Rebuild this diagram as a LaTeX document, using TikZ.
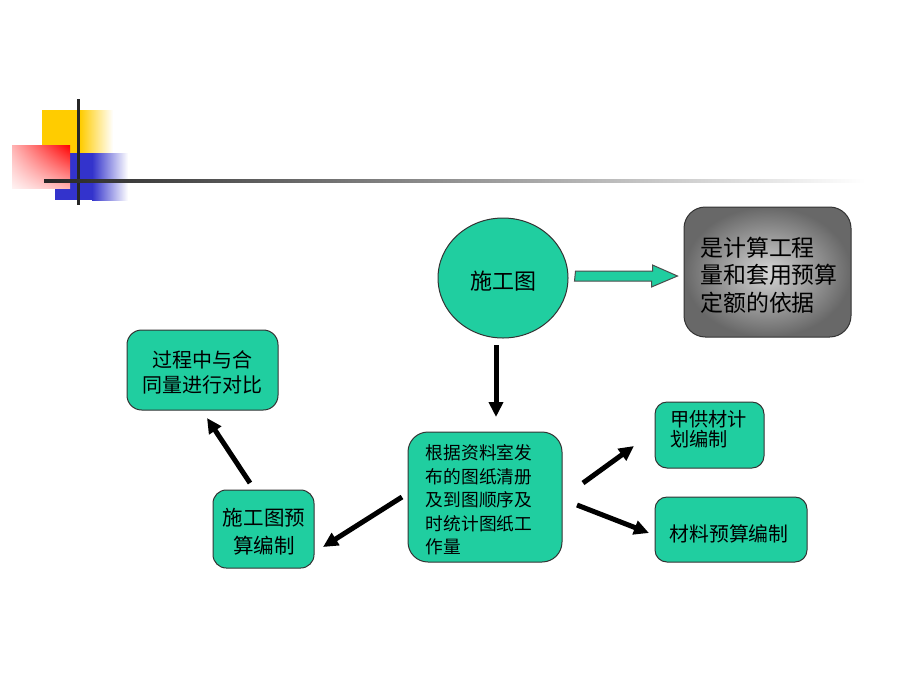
\documentclass[tikz,border=0pt]{standalone}
\usepackage{fontspec}
\setmainfont{Noto Sans CJK SC}
\usetikzlibrary{arrows.meta,calc,shapes.geometric,shadings}
\definecolor{teal1}{RGB}{32,206,160}
\definecolor{yellow1}{RGB}{255,204,0}
\definecolor{blue1}{RGB}{51,51,204}
\definecolor{red1}{RGB}{255,0,0}
\definecolor{glight}{RGB}{214,214,214}
\definecolor{gdark}{RGB}{104,104,104}
\begin{document}
\begin{tikzpicture}[x=0.75pt,y=-0.75pt,
  box/.style={draw=black!80, line width=0.75pt, fill=teal1, inner sep=0pt},
  txt/.style={inner sep=0pt, text=black},
  thinarrow/.style={line width=3.75pt, -{Triangle[length=11.25pt,width=10.5pt]}},
  blockarr/.style={draw=black!70, line width=0.75pt, fill=teal1}]
\useasboundingbox (0,0) rectangle (920,690);
\fill[white] (0,0) rectangle (920,690);
% decoration
\fill[yellow1] (42,110) rectangle (80,153);
\shade[left color=yellow1, right color=white] (80,110) rectangle (113,153);
\fill[blue1] (55,153) rectangle (92,200);
\shade[left color=blue1, right color=white] (92,153) rectangle (128,200);
\shade[upper right=red1, upper left=red1!30, lower right=red1!30, lower left=red1!5] (12,145) rectangle (70,188);
\draw[line width=2.25pt, black!85] (78,99) -- (78,205);
\shade[left color=black!85, right color=white] (44,179.5) rectangle (865,182.5);
% nodes
\node[ellipse, box, minimum width=97.5pt, minimum height=90pt] (circ) at (503,278) {};
\node[txt, font=\fontsize{16.5}{20}\selectfont] (tcirc) at (503,281) {施工图};
\node[draw=black!80, line width=0.75pt, rounded corners=16pt, inner color=glight, outer color=gdark, minimum width=125.25pt, minimum height=97.5pt, inner sep=0pt] (gbox) at (767.5,272) {};
\node[txt, align=left, font=\fontsize{17.2}{20.6}\selectfont] (tg) at (769,275) {是计算工程\\量和套用预算\\定额的依据};
\node[box, rounded corners=15pt, minimum width=115.5pt, minimum height=97.5pt] (cbox) at (485,497) {};
\node[txt, align=left, font=\fontsize{13.3}{17.6}\selectfont] (tc) at (479,500) {根据资料室发\\布的图纸清册\\及到图顺序及\\时统计图纸工\\作量};
\node[box, rounded corners=9pt, minimum width=81.75pt, minimum height=49.5pt] (jbox) at (709.5,435) {};
\node[txt, align=left, font=\fontsize{14.4}{15}\selectfont] (tj) at (708.5,429) {甲供材计\\划编制};
\node[box, rounded corners=9pt, minimum width=114pt, minimum height=48.75pt] (mbox) at (731,529.5) {};
\node[txt, font=\fontsize{14.9}{18}\selectfont] (tm) at (729,534) {材料预算编制};
\node[box, rounded corners=10pt, minimum width=75.75pt, minimum height=58.5pt] (sbox) at (263.5,529) {};
\node[txt, align=center, font=\fontsize{15.4}{21}\selectfont] (ts) at (264,532) {施工图预\\算编制};
\node[box, rounded corners=11pt, minimum width=113.25pt, minimum height=60pt] (pbox) at (202.5,370) {};
\node[txt, align=center, font=\fontsize{15}{18.75}\selectfont] (tp) at (202,372.5) {过程中与合\\同量进行对比};
% block arrow
\draw[blockarr] ($(circ.east)+(7,-7)$) -- ++(77,0) -- ++(0,-6) -- ($(gbox.west)+(-6,4)$) -- ++(-26,11) -- ++(0,-6) -- ++(-77,0) -- cycle;
% thin arrows
\coordinate (a1s) at (496,345); \coordinate (a1e) at (496,417);
\coordinate (a2s) at (402,497); \coordinate (a2e) at (323,547);
\coordinate (a3s) at (250,483); \coordinate (a3e) at (207,418);
\coordinate (a4s) at (583,483); \coordinate (a4e) at (634,446);
\coordinate (a5s) at (577,505); \coordinate (a5e) at (649,533);
\draw[thinarrow] (a1s) -- (a1e);
\draw[thinarrow] (a2s) -- (a2e);
\draw[thinarrow] (a3s) -- (a3e);
\draw[thinarrow] (a4s) -- (a4e);
\draw[thinarrow] (a5s) -- (a5e);
\end{tikzpicture}
\end{document}
